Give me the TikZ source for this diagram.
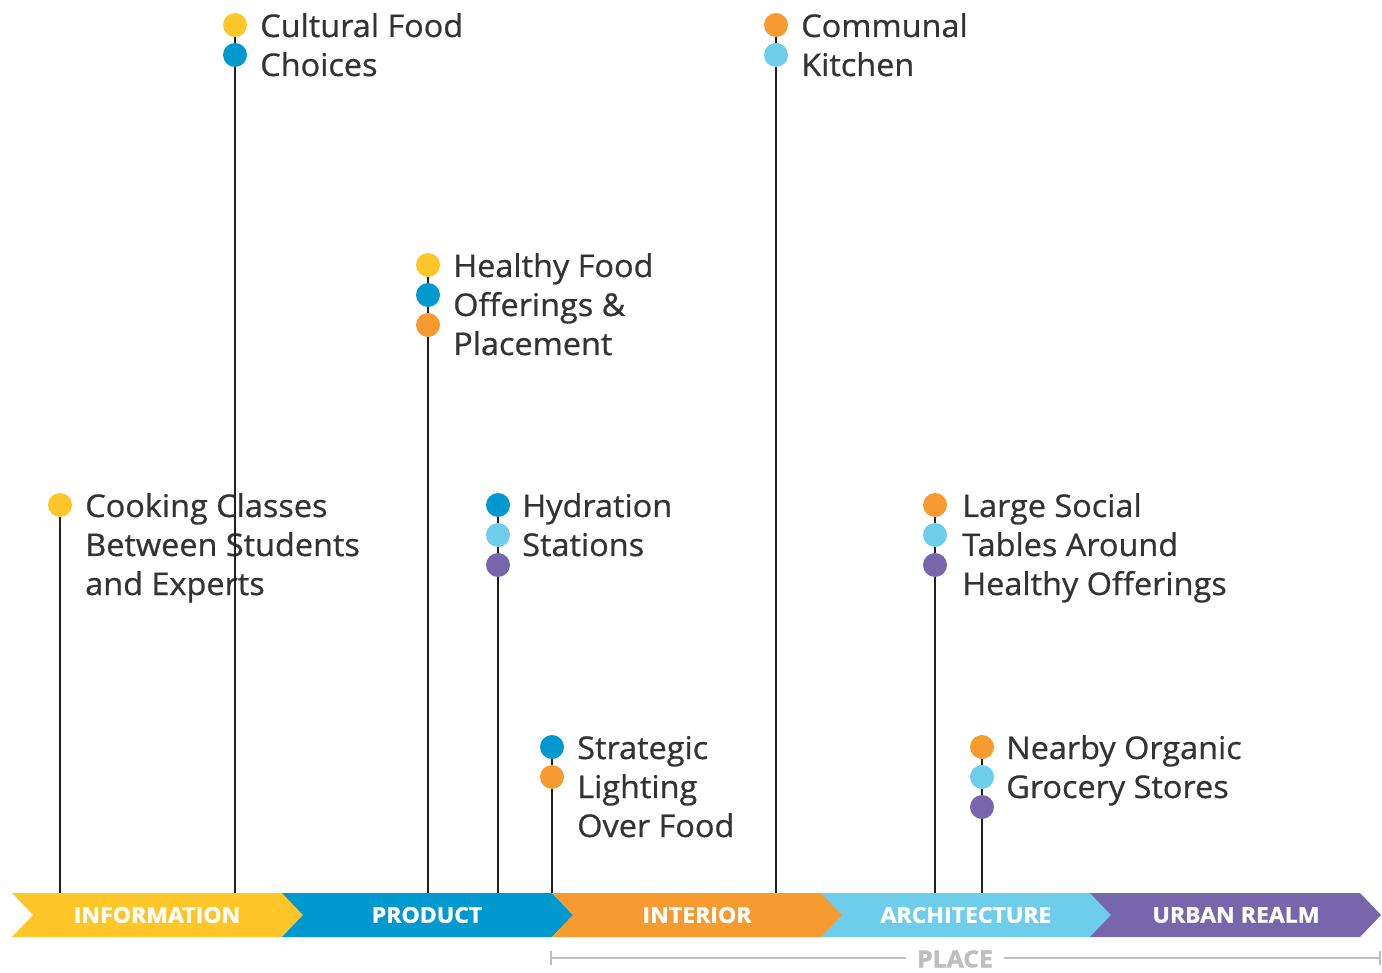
\documentclass[tikz,border=0pt]{standalone}
\usepackage{fontspec}
\setmainfont{Open Sans}
\newfontfamily\lblfont{Open Sans}[FakeBold=0.7,FakeStretch=1.035]
\newfontfamily\segfont{Open Sans}[BoldFeatures={FakeBold=1.6,FakeStretch=1.06}]
\definecolor{cyel}{HTML}{FFC629}
\definecolor{cblu}{HTML}{0099CF}
\definecolor{cora}{HTML}{F79A30}
\definecolor{clbl}{HTML}{6DCDEB}
\definecolor{cpur}{HTML}{7866AC}
\definecolor{ctxt}{HTML}{333333}
\definecolor{cstem}{HTML}{231F20}
\definecolor{cplace}{HTML}{BCBEC0}
\begin{document}
\begin{tikzpicture}[x=0.75pt,y=-0.75pt,
  dot/.style={circle,inner sep=0pt,minimum size=18pt},
  lbl/.style={anchor=base west,inner sep=0pt,text=ctxt,font=\lblfont\fontsize{23.5}{28}\selectfont},
  stem/.style={line width=2.2pt,draw=cstem},
  seglbl/.style={text=white,inner sep=0pt,font=\segfont\bfseries\fontsize{16.3}{18}\selectfont},
  placeline/.style={line width=1.4pt,draw=cplace}]
\useasboundingbox (0,0) rectangle (1382,973);

% ---- bar segments ----
\foreach \x/\c in {12/cyel,282/cblu,552/cora,821/clbl,1090/cpur}{
  \fill[\c] (\x,893) -- (\x+270,893) -- (\x+291,915) -- (\x+270,937) -- (\x,937) -- (\x+21,915) -- cycle;
}
\node[seglbl] (sInfo) at (157,915) {INFORMATION};
\node[seglbl] (sProd) at (427,915) {PRODUCT};
\node[seglbl] (sInt) at (697,915) {INTERIOR};
\node[seglbl] (sArch) at (966,915) {ARCHITECTURE};
\node[seglbl] (sUrb) at (1236,915) {URBAN REALM};

% ---- PLACE ----
\node[text=cplace,inner sep=0pt,font=\segfont\bfseries\fontsize{17.5}{20}\selectfont] (place) at (955,959) {PLACE};
\coordinate (pl0) at (551,958);
\coordinate (pl1) at (1380,958);
\draw[placeline] (pl0) -- ([xshift=-8pt]place.west |- pl0);
\draw[placeline] ([xshift=8pt]place.east |- pl1) -- (pl1);
\draw[placeline] ([yshift=5.5pt]pl0) -- ([yshift=-5.5pt]pl0);
\draw[placeline] ([yshift=5.5pt]pl1) -- ([yshift=-5.5pt]pl1);

% ---- labels ----
\node[lbl] (t1a) at (85,517) {Cooking Classes};
\node[lbl] (t1b) at (85,556) {Between Students};
\node[lbl] (t1c) at (85,595) {and Experts};

\node[lbl] (t2a) at (260,37) {Cultural Food};
\node[lbl] (t2b) at (260,76) {Choices};

\node[lbl] (t3a) at (453,277) {Healthy Food};
\node[lbl] (t3b) at (453,316) {Offerings \&};
\node[lbl] (t3c) at (453,355) {Placement};

\node[lbl] (t4a) at (522,517) {Hydration};
\node[lbl] (t4b) at (522,556) {Stations};

\node[lbl] (t5a) at (577,759) {Strategic};
\node[lbl] (t5b) at (577,798) {Lighting};
\node[lbl] (t5c) at (577,837) {Over Food};

\node[lbl] (t6a) at (801,37) {Communal};
\node[lbl] (t6b) at (801,76) {Kitchen};

\node[lbl] (t7a) at (962,517) {Large Social};
\node[lbl] (t7b) at (962,556) {Tables Around};
\node[lbl] (t7c) at (962,595) {Healthy Offerings};

\node[lbl] (t8a) at (1006,759) {Nearby Organic};
\node[lbl] (t8b) at (1006,798) {Grocery Stores};

% ---- bar-top coordinates ----
\coordinate (b1) at (60,893);
\coordinate (b2) at (235,893);
\coordinate (b3) at (428,893);
\coordinate (b4) at (498,893);
\coordinate (b5) at (552,893);
\coordinate (b6) at (776,893);
\coordinate (b7) at (935,893);
\coordinate (b8) at (982,893);

% ---- top dot positions ----
\coordinate (d1a) at (60,505);
\coordinate (d2a) at (235,25);
\coordinate (d3a) at (428,265);
\coordinate (d4a) at (498,505);
\coordinate (d5a) at (552,747);
\coordinate (d6a) at (776,25);
\coordinate (d7a) at (935,505);
\coordinate (d8a) at (982,747);

% ---- stems ----
\foreach \i in {1,...,8}{ \draw[stem] (d\i a) -- (b\i); }

% ---- dots ----
\node[dot,fill=cyel] (n1a) at (d1a) {};

\node[dot,fill=cyel] (n2a) at (d2a) {};
\node[dot,fill=cblu] (n2b) at (235,55) {};

\node[dot,fill=cyel] (n3a) at (d3a) {};
\node[dot,fill=cblu] (n3b) at (428,295) {};
\node[dot,fill=cora] (n3c) at (428,325) {};

\node[dot,fill=cblu] (n4a) at (d4a) {};
\node[dot,fill=clbl] (n4b) at (498,535) {};
\node[dot,fill=cpur] (n4c) at (498,565) {};

\node[dot,fill=cblu] (n5a) at (d5a) {};
\node[dot,fill=cora] (n5b) at (552,777) {};

\node[dot,fill=cora] (n6a) at (d6a) {};
\node[dot,fill=clbl] (n6b) at (776,55) {};

\node[dot,fill=cora] (n7a) at (d7a) {};
\node[dot,fill=clbl] (n7b) at (935,535) {};
\node[dot,fill=cpur] (n7c) at (935,565) {};

\node[dot,fill=cora] (n8a) at (d8a) {};
\node[dot,fill=clbl] (n8b) at (982,777) {};
\node[dot,fill=cpur] (n8c) at (982,807) {};
\end{tikzpicture}
\end{document}
